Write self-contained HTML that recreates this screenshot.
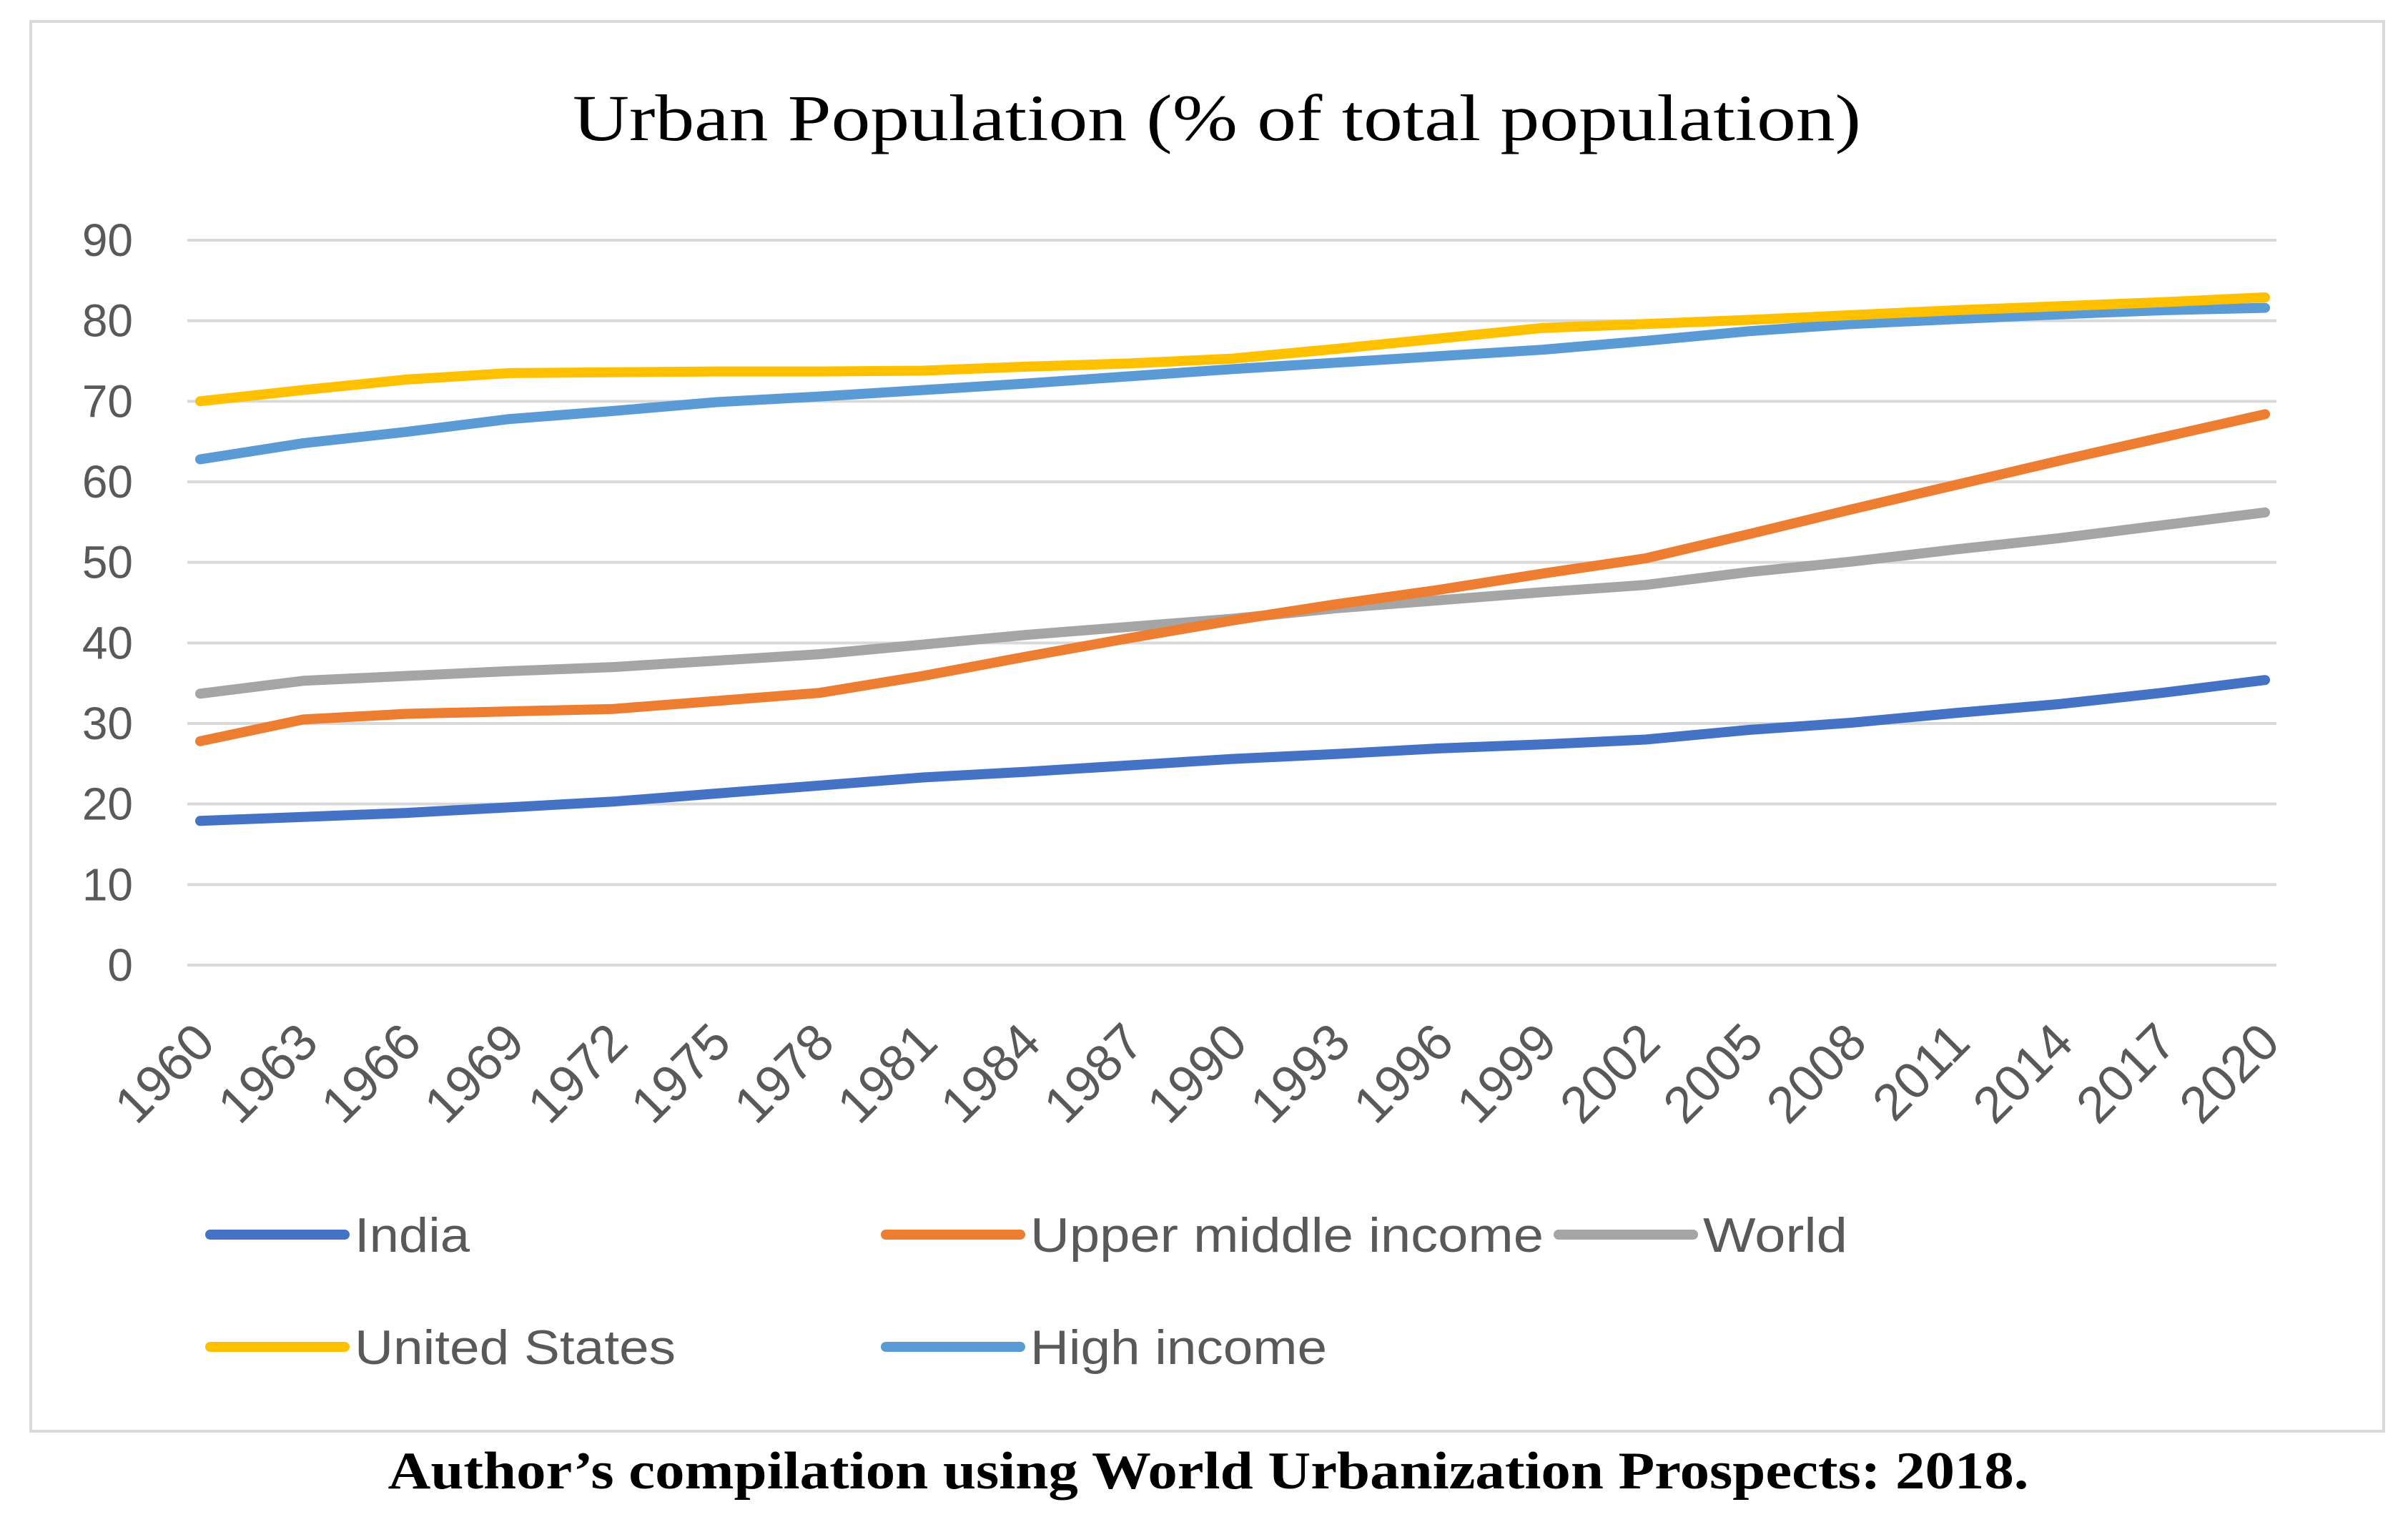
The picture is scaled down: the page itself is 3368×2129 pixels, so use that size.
<!DOCTYPE html>
<html><head><meta charset="utf-8"><style>
html,body{margin:0;padding:0;background:#fff;}
svg{display:block;}
</style></head><body>
<svg id="chart" width="3368" height="2129" viewBox="0 0 3368 2129" xmlns="http://www.w3.org/2000/svg">
<rect x="43" y="30" width="3291" height="1972" fill="#fff" stroke="#d9d9d9" stroke-width="4"/>
<text x="1702" y="196" text-anchor="middle" font-family="Liberation Serif, serif" font-size="92" fill="#000" textLength="1802" lengthAdjust="spacingAndGlyphs">Urban Population (% of total population)</text>
<g id="grid"></g><g id="ylabels"></g><g id="xlabels"></g><g id="series"></g><g id="legend"></g>
<text x="1690" y="2082" text-anchor="middle" font-family="Liberation Serif, serif" font-weight="bold" font-size="74" fill="#000" textLength="2295" lengthAdjust="spacingAndGlyphs">Author’s compilation using World Urbanization Prospects: 2018.</text>
</svg>
<script>
const years = [1960,1963,1966,1969,1972,1975,1978,1981,1984,1987,1990,1993,1996,1999,2002,2005,2008,2011,2014,2017,2020];
const yTicks = [0,10,20,30,40,50,60,70,80,90];
const india = [17.9,18.4,18.9,19.6,20.3,21.3,22.3,23.3,24.0,24.8,25.6,26.2,26.9,27.4,28.0,29.2,30.1,31.3,32.4,33.8,35.4];
const upperMiddle = [27.8,30.5,31.2,31.5,31.8,32.8,33.8,35.9,38.3,40.6,42.8,44.8,46.6,48.6,50.5,53.5,56.6,59.6,62.6,65.5,68.4];
const world = [33.7,35.3,35.9,36.5,37.0,37.8,38.6,39.8,41.0,42.0,43.0,44.3,45.3,46.3,47.2,48.8,50.1,51.6,53.0,54.6,56.2];
const unitedStates = [70.0,71.4,72.7,73.5,73.6,73.7,73.7,73.8,74.3,74.7,75.3,76.5,77.8,79.1,79.6,80.1,80.7,81.3,81.8,82.3,82.9];
const highIncome = [62.8,64.8,66.2,67.8,68.8,69.9,70.6,71.4,72.2,73.1,74.0,74.8,75.6,76.4,77.5,78.7,79.6,80.2,80.8,81.3,81.6];
const seriesNames = ["India","Upper middle income","World","United States","High income"];

const NS="http://www.w3.org/2000/svg";
const X0=280, X1=3168, Y0=1350, Y90=336, GL=262, GR=3184;
function xs(i){return X0+(X1-X0)*i/(years.length-1);}
function ys(v){return Y0-(Y0-Y90)*v/90;}
function mk(tag,attrs,parent){const e=document.createElementNS(NS,tag);for(const k in attrs)e.setAttribute(k,attrs[k]);parent.appendChild(e);return e;}
const grid=document.getElementById('grid'),yl=document.getElementById('ylabels'),xl=document.getElementById('xlabels'),sg=document.getElementById('series'),lg=document.getElementById('legend');
yTicks.forEach(t=>{
  const l=mk('line',{x1:GL,x2:GR,y1:ys(t),y2:ys(t),stroke:'#d9d9d9','stroke-width':4},grid);
  
  
  const tx=mk('text',{x:186,y:ys(t)+22,'text-anchor':'end','font-family':'Liberation Sans, sans-serif','font-size':64,fill:'#595959'},yl);
  tx.textContent=t;
  
  
});
years.forEach((y,i)=>{
  const x=xs(i)+24, yy=1462;
  const tx=mk('text',{x:x,y:yy,'text-anchor':'end','font-family':'Liberation Sans, sans-serif','font-size':72,fill:'#595959',transform:`rotate(-45 ${x} ${yy})`},xl);
  tx.textContent=y;
  
  
});
const data=[india,upperMiddle,world,unitedStates,highIncome];
const colors=['#4472c4','#ed7d31','#a5a5a5','#ffc000','#5b9bd5'];
const order=[2,1,0,4,3];
order.forEach(k=>{
  const d=data[k].map((v,i)=>(i?'L':'M')+xs(i).toFixed(1)+' '+ys(v).toFixed(1)).join(' ');
  const p=mk('path',{d:d,fill:'none',stroke:colors[k],'stroke-width':14,'stroke-linecap':'round','stroke-linejoin':'round'},sg);
  
  
});
const legPos=[[294,1727],[1239,1727],[2180,1727],[294,1884],[1239,1884]];
const legLens=[161,718,202,449,415];
legPos.forEach((p,k)=>{
  const g=mk('g',{},lg);
  
  
  mk('line',{x1:p[0],x2:p[0]+188,y1:p[1],y2:p[1],stroke:colors[k],'stroke-width':14,'stroke-linecap':'round'},g);
  const t=mk('text',{x:p[0]+202,y:p[1]+24,'font-family':'Liberation Sans, sans-serif','font-size':68,fill:'#595959',textLength:legLens[k],lengthAdjust:'spacingAndGlyphs'},g);
  t.textContent=seriesNames[k];
});
</script>
</body></html>
